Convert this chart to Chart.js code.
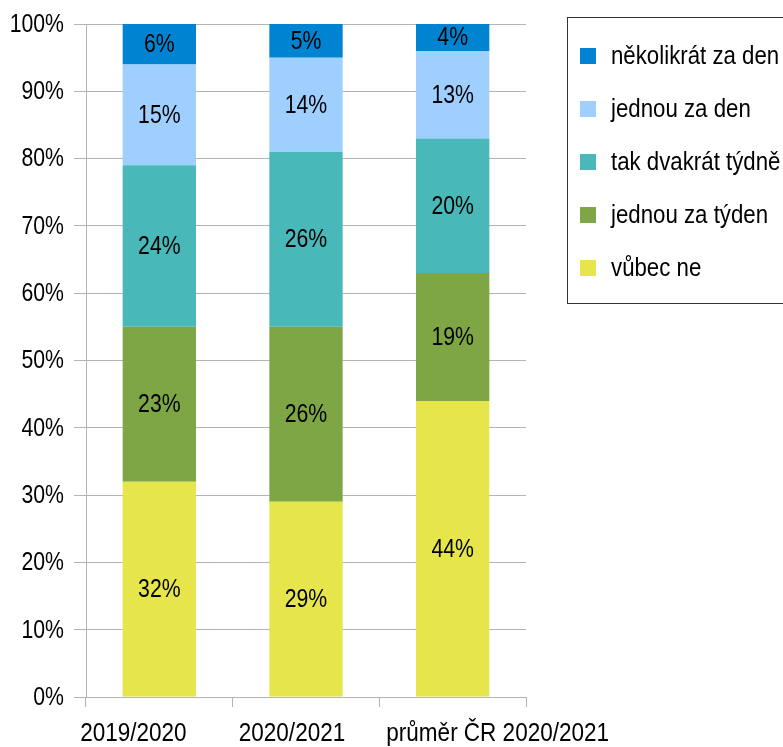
<!DOCTYPE html>
<html>
<head>
<meta charset="utf-8">
<script src="https://cdn.jsdelivr.net/npm/chart.js@4/dist/chart.umd.min.js"></script>
<style>
  html, body { margin: 0; padding: 0; background: #fff; }
  #wrap { width: 783px; height: 747px; position: relative; }
</style>
</head>
<body>
<div id="wrap"><canvas id="graf"></canvas></div>
<script>
// ========== DATA ==========
const kategorie = ["2019/2020", "2020/2021", "průměr ČR 2020/2021"];
const vubecNe = [32, 29, 44];
const jednouZaTyden = [23, 26, 19];
const dvakratTydne = [24, 26, 20];
const jednouZaDen = [15, 14, 13];
const nekolikratZaDen = [6, 5, 4];
const osaY = [0, 10, 20, 30, 40, 50, 60, 70, 80, 90, 100];

const PISMO = "25px 'Liberation Sans', Arial, sans-serif";
const ZUZENI = 0.85; // úzké písmo jako v originále
const MRIZKA = "#b3b3b3";
// posun popisků osy X vůči středu sloupce (jako v originále)
const posunPopisku = [-26, -14, 45];

// ========== UTILITAIRES ==========
function napis(ctx, text, x, y, align, sx) {
  ctx.save();
  ctx.translate(x, y);
  ctx.scale(sx || ZUZENI, 1);
  ctx.textAlign = align;
  ctx.fillText(text, 0, 0);
  ctx.restore();
}

// ========== PLUGINY ==========
const popiskyHodnot = {
  id: "popiskyHodnot",
  afterDatasetsDraw(chart) {
    const ctx = chart.ctx;
    ctx.save();
    ctx.font = PISMO;
    ctx.fillStyle = "#000";
    ctx.textBaseline = "middle";
    chart.data.datasets.forEach((ds, i) => {
      chart.getDatasetMeta(i).data.forEach((bar, j) => {
        napis(ctx, ds.data[j] + "%", bar.x, (bar.y + bar.base) / 2 + 1, "center");
      });
    });
    ctx.restore();
  },
};

const popiskyOs = {
  id: "popiskyOs",
  afterDraw(chart) {
    const ctx = chart.ctx;
    const { x, y } = chart.scales;
    ctx.save();
    ctx.font = PISMO;
    ctx.fillStyle = "#000";
    ctx.textBaseline = "middle";
    kategorie.forEach((k, i) => {
      napis(ctx, k, x.getPixelForValue(i) + posunPopisku[i], chart.chartArea.bottom + 37, "center", 0.9);
    });
    osaY.forEach((v) => {
      napis(ctx, v + "%", chart.chartArea.left - 22, y.getPixelForValue(v) + 1, "right");
    });
    ctx.restore();
  },
};

const legendaBox = {
  id: "legendaBox",
  afterDraw(chart) {
    const ctx = chart.ctx;
    const left = 567, top = 17, w = 240, h = 286;
    ctx.save();
    ctx.strokeStyle = "#333";
    ctx.lineWidth = 1;
    ctx.strokeRect(left + 0.5, top + 0.5, w, h);
    ctx.font = PISMO;
    ctx.textBaseline = "middle";
    const polozky = chart.data.datasets.slice().reverse();
    polozky.forEach((ds, i) => {
      const y = top + 39 + i * 53;
      ctx.fillStyle = ds.backgroundColor;
      ctx.fillRect(left + 13, y - 8, 16, 16);
      ctx.fillStyle = "#000";
      napis(ctx, ds.label, left + 44, y + 1, "left", 0.89);
    });
    ctx.restore();
  },
};

// ========== GRAF ==========
new Chart(document.getElementById("graf"), {
  type: "bar",
  data: {
    labels: kategorie,
    datasets: [
      { label: "vůbec ne", data: vubecNe, backgroundColor: "#e6e64c" },
      { label: "jednou za týden", data: jednouZaTyden, backgroundColor: "#7ea645" },
      { label: "tak dvakrát týdně", data: dvakratTydne, backgroundColor: "#48b8b8" },
      { label: "jednou za den", data: jednouZaDen, backgroundColor: "#9fcfff" },
      { label: "několikrát za den", data: nekolikratZaDen, backgroundColor: "#0084d1" },
    ],
  },
  options: {
    responsive: true,
    maintainAspectRatio: false,
    animation: false,
    layout: { padding: { top: 24, right: 257, left: 0, bottom: 0 } },
    datasets: { bar: { barPercentage: 0.5, categoryPercentage: 1 } },
    plugins: { legend: { display: false }, tooltip: { enabled: false } },
    scales: {
      x: {
        stacked: true,
        grid: { offset: true, drawOnChartArea: false, color: MRIZKA, tickLength: 10 },
        border: { color: MRIZKA },
        ticks: { display: false },
        afterFit: (s) => { s.height = 50; },
      },
      y: {
        stacked: true,
        min: 0,
        max: 100,
        afterBuildTicks: (s) => { s.ticks = osaY.map((v) => ({ value: v })); },
        grid: { color: MRIZKA, tickLength: 12 },
        border: { color: MRIZKA },
        ticks: { display: false },
        afterFit: (s) => { s.width = 86; },
      },
    },
  },
  plugins: [popiskyHodnot, popiskyOs, legendaBox],
});
</script>
</body>
</html>
